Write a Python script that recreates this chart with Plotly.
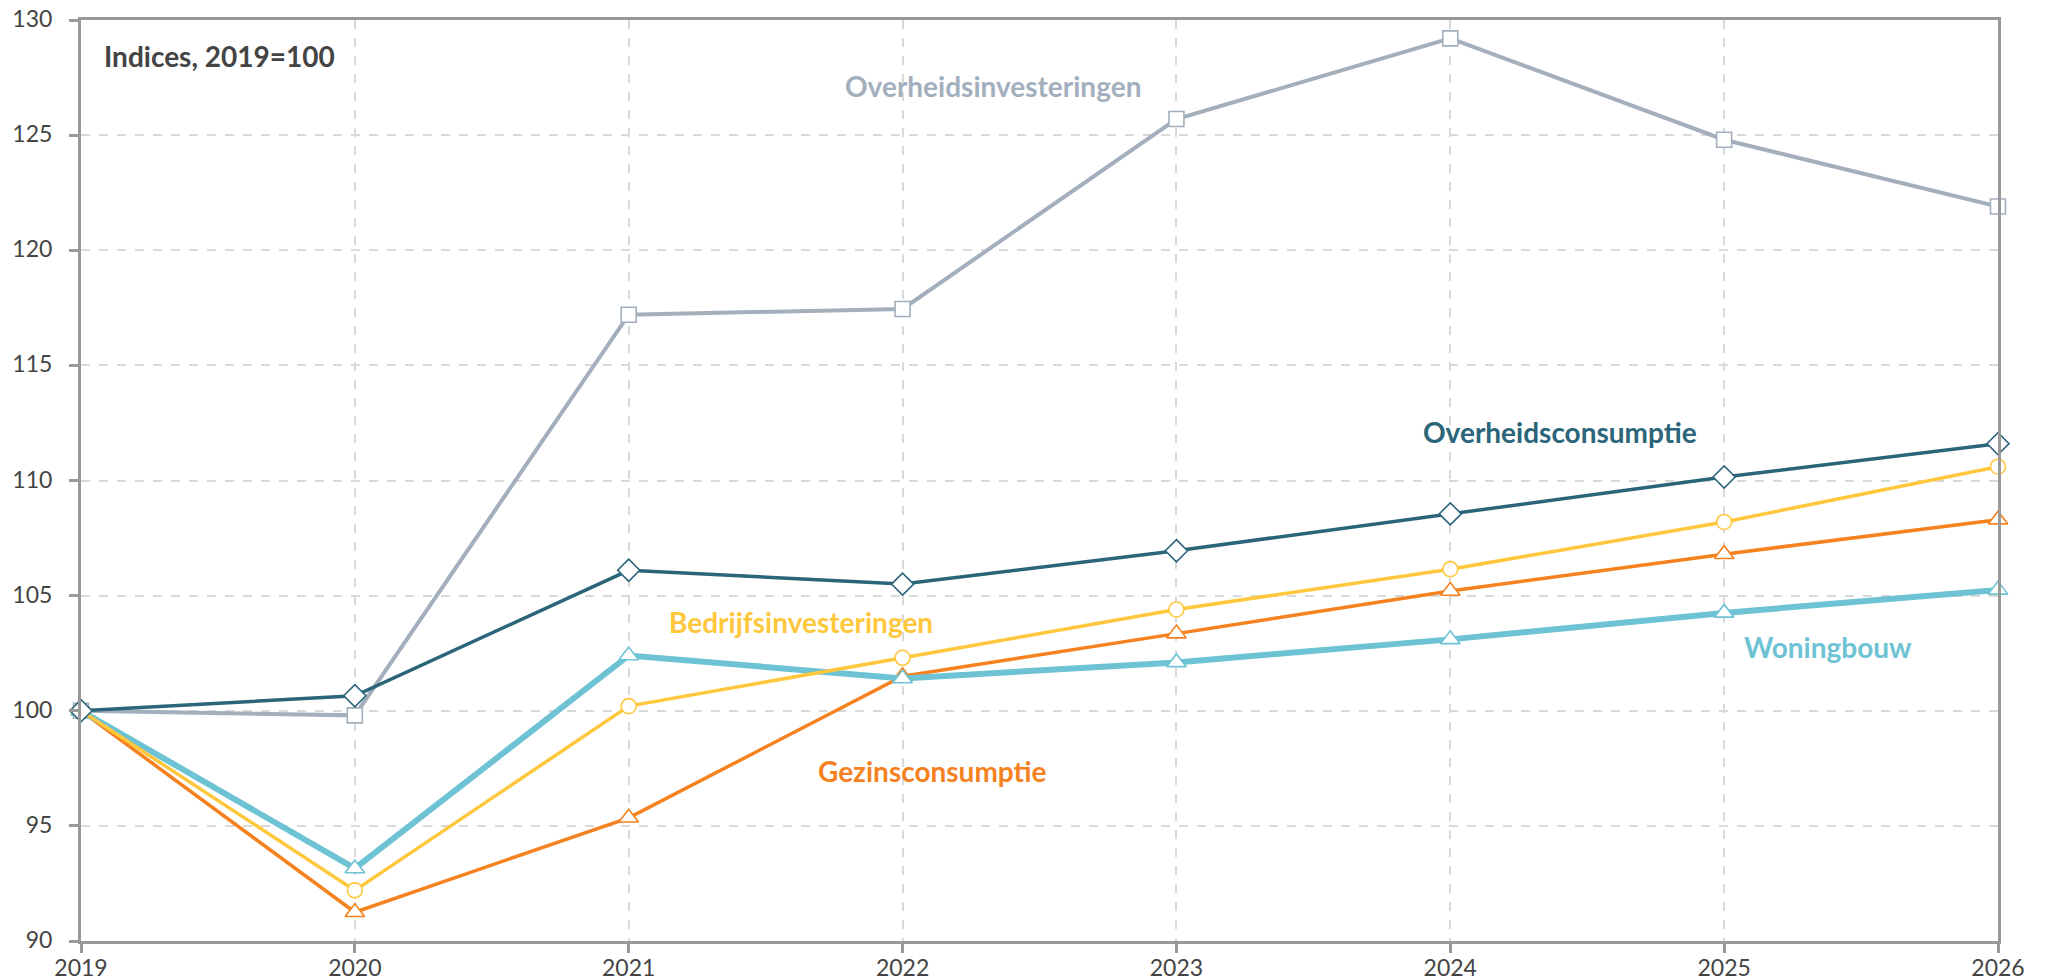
import plotly.graph_objects as go

years = [2019, 2020, 2021, 2022, 2023, 2024, 2025, 2026]

overheidsinvesteringen = [100.0, 99.8, 117.2, 117.45, 125.7, 129.2, 124.8, 121.9]
overheidsconsumptie = [100.0, 100.65, 106.1, 105.5, 106.95, 108.55, 110.15, 111.6]
bedrijfsinvesteringen = [100.0, 92.2, 100.2, 102.3, 104.4, 106.15, 108.2, 110.6]
gezinsconsumptie = [100.0, 91.25, 95.35, 101.5, 103.35, 105.2, 106.8, 108.3]
woningbouw = [100.0, 93.15, 102.4, 101.4, 102.1, 103.1, 104.25, 105.25]

series = [
    ("Overheidsinvesteringen", overheidsinvesteringen, "#a3afbd", 4, "square", 15),
    ("Gezinsconsumptie", gezinsconsumptie, "#f5821f", 3.5, "triangle-up", 17),
    ("Woningbouw", woningbouw, "#6dc3d3", 6, "triangle-up", 17),
    ("Bedrijfsinvesteringen", bedrijfsinvesteringen, "#ffc73c", 3.5, "circle", 15),
    ("Overheidsconsumptie", overheidsconsumptie, "#2b6579", 3.5, "diamond", 17),
]

labels = [
    ("Overheidsinvesteringen", 2022.33, 127.13, "#a3afbd"),
    ("Overheidsconsumptie", 2024.40, 112.11, "#2b6579"),
    ("Bedrijfsinvesteringen", 2021.63, 103.86, "#ffc73c"),
    ("Gezinsconsumptie", 2022.11, 97.39, "#f5821f"),
    ("Woningbouw", 2025.38, 102.77, "#6dc3d3"),
]

FONT = "Lato"

fig = go.Figure()
for name, vals, color, lw, sym, ms in series:
    fig.add_trace(go.Scatter(
        x=years, y=vals, name=name, mode="lines+markers",
        line=dict(color=color, width=lw),
        marker=dict(symbol=sym, size=ms, color="white",
                    line=dict(color=color, width=1.6)),
        cliponaxis=False, showlegend=False,
    ))

for text, x, y, color in labels:
    fig.add_annotation(x=x, y=y, text=f"<b>{text}</b>", showarrow=False,
                       font=dict(family=FONT, size=28, color=color),
                       xanchor="center", yanchor="middle")

fig.add_annotation(x=2019.077, y=128.44, text="<b>Indices, 2019=100</b>",
                   showarrow=False, xanchor="left", yanchor="middle",
                   font=dict(family=FONT, size=28, color="#444444"))

axis_common = dict(
    showline=True, mirror=True, linecolor="#999999", linewidth=3,
    ticks="outside", ticklen=9, tickcolor="#999999", tickwidth=3,
    showgrid=True, gridcolor="#d9d9d9", gridwidth=2, griddash="dash",
    zeroline=False, automargin=False, ticklabeloverflow="allow",
    tickfont=dict(family=FONT, size=23, color="#444444"),
)

fig.update_xaxes(range=[2019, 2026], tickmode="array", tickvals=years,
                 ticktext=[str(y) for y in years], ticklabelstandoff=-5,
                 **axis_common)
fig.update_yaxes(range=[90, 130], tickmode="array",
                 tickvals=[90, 95, 100, 105, 110, 115, 120, 125, 130],
                 ticklabelstandoff=12, ticklabelshift=-1, **axis_common)

fig.update_layout(
    width=2046, height=980,
    margin=dict(l=81, r=48, t=20, b=39),
    plot_bgcolor="white", paper_bgcolor="white",
    font=dict(family=FONT),
)

fig.write_html("out.html",
               config={"displayModeBar": False},
               post_script="document.body.style.margin='0';document.body.style.overflow='hidden';")
